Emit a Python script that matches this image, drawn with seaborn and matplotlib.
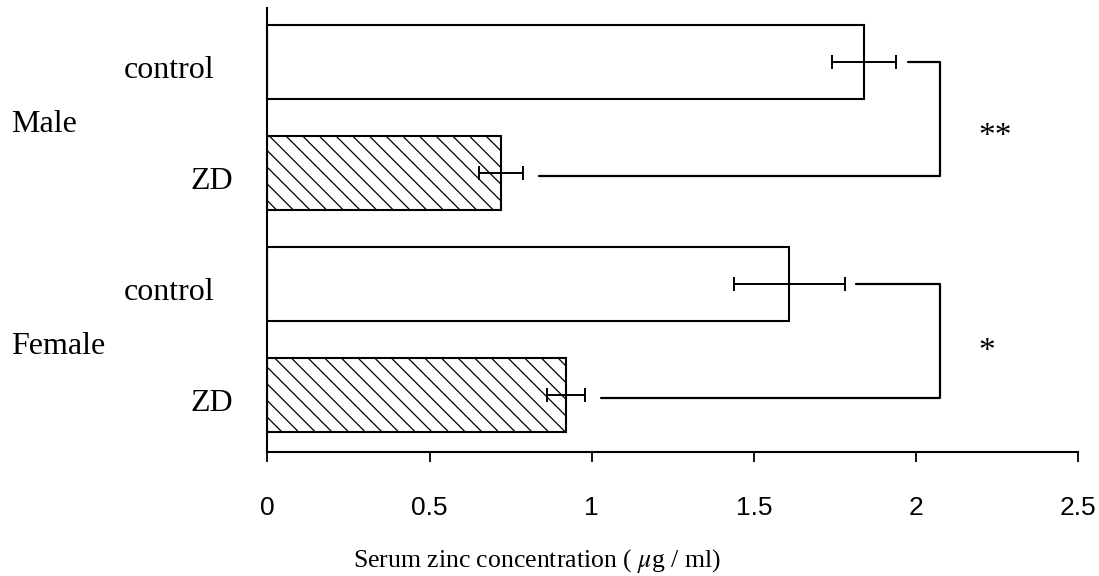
import matplotlib
matplotlib.use("Agg")
import matplotlib.pyplot as plt
import numpy as np
import pandas as pd
import seaborn as sns

# values (serum zinc, ug/ml, mean +/- SD)
sexes = ["Male", "Male", "Female", "Female"]
treatments = ["control", "ZD", "control", "ZD"]
means = [1.84, 0.72, 1.61, 0.92]
sds = [0.10, 0.067, 0.17, 0.058]
stars = ["**", "*"]
bracket_x = 2.075
x_ticks = [0, 0.5, 1, 1.5, 2, 2.5]
x_tick_labels = ["0", "0.5", "1", "1.5", "2", "2.5"]

df = pd.DataFrame({
    "row": [f"{s} {t}" for s, t in zip(sexes, treatments)],
    "sex": sexes,
    "treatment": treatments,
    "value": means,
})

sns.set_style("ticks")
plt.rcParams["font.family"] = ["Liberation Serif", "DejaVu Serif"]
plt.rcParams["mathtext.fontset"] = "stix"
plt.rcParams["hatch.linewidth"] = 0.9
for key in ["text.color", "axes.labelcolor", "xtick.color", "ytick.color",
            "axes.edgecolor"]:
    plt.rcParams[key] = "black"

fig = plt.figure(figsize=(10.99, 5.76), dpi=100)
ax = fig.add_axes([0.2434, 0.2153, 0.7375, 0.7708])

sns.barplot(data=df, x="value", y="row", orient="h", color="white",
            saturation=1, edgecolor="black", linewidth=1.5, width=0.667,
            errorbar=None, ax=ax)

for patch, t in zip(ax.patches, df["treatment"]):
    if t == "ZD":
        patch.set_hatch("\\\\")

pos = np.arange(len(df))
ax.errorbar(means, pos, xerr=sds, fmt="none", ecolor="black",
            elinewidth=1.4, capsize=4.7, capthick=1.4)

# significance brackets: control (upper) vs ZD (lower) within each sex
star_dy = [0.175, 0.11]
for k, label in enumerate(stars):
    top, bot = 2 * k, 2 * k + 1
    x_top = means[top] + sds[top] + 0.035
    x_bot = means[bot] + sds[bot] + 0.05
    ax.plot([x_top, bracket_x, bracket_x, x_bot], [top, top, bot + 0.03, bot + 0.03],
            color="black", lw=1.6, clip_on=False)
    ax.text(bracket_x + 0.16 + (0.01 if len(label) == 2 else -0.015),
            (top + bot) / 2 + star_dy[k], label, fontsize=24, ha="center", va="center")

# row labels and group labels
for i, t in enumerate(treatments):
    ax.text(-0.1625 if t == "control" else -0.107, i + 0.143, t, fontsize=23,
            ha="right", va="baseline", clip_on=False)
for k, s in enumerate(["Male", "Female"]):
    ax.text(-0.7905, 2 * k + 0.635, s, fontsize=23, ha="left", va="baseline",
            clip_on=False)

ax.set_xlim(0, 2.5)
ax.set_ylim(3.514, -0.486)
ax.set_yticks([])
ax.set_ylabel("")
ax.set_xticks(x_ticks)
ax.set_xticklabels(x_tick_labels, family=["Liberation Sans", "DejaVu Sans"],
                   fontsize=19)
ax.tick_params(axis="x", direction="out", length=7, width=1.3, pad=25, color="black")
sns.despine(ax=ax)
for side in ["left", "bottom"]:
    ax.spines[side].set_linewidth(1.5)

ax.set_xlabel("Serum zinc concentration ( $\\mu$g / ml)", fontsize=18.5)
ax.xaxis.set_label_coords(0.3325, -0.259)
ax.xaxis.label.set_va("baseline")

fig.savefig("out.png", dpi=100, facecolor="white")
